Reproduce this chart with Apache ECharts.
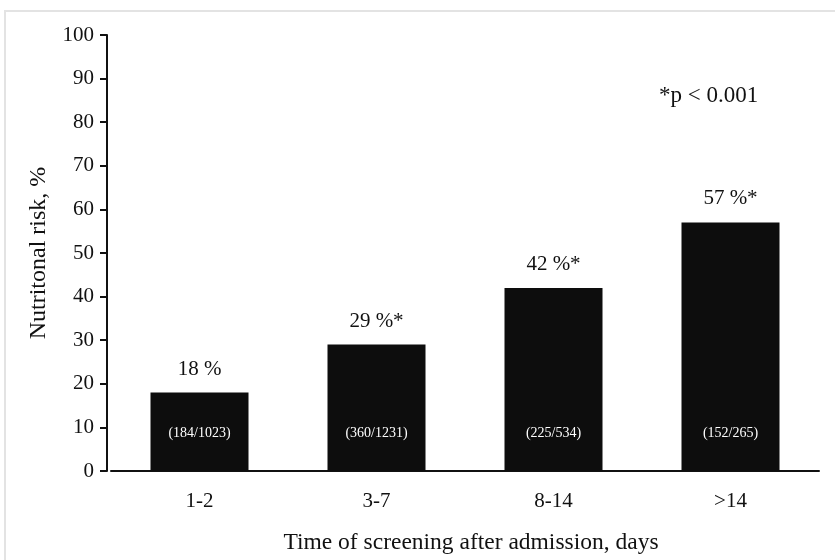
<!DOCTYPE html>
<html>
<head>
<meta charset="utf-8">
<script src="https://cdn.jsdelivr.net/npm/echarts@6/dist/echarts.min.js"></script>
<style>html,body{margin:0;padding:0;background:#fff}#c{width:835px;height:560px}</style>
</head>
<body>
<div id="c"></div>
<script>
const categories = ['1-2', '3-7', '8-14', '>14'];
const riskValues = [18, 29, 42, 57];
const topLabels = ['18 %', '29 %*', '42 %*', '57 %*'];
const countLabels = ['(184/1023)', '(360/1231)', '(225/534)', '(152/265)'];
const yTicks = [0, 10, 20, 30, 40, 50, 60, 70, 80, 90, 100];

const FONT = '"Liberation Serif", "Times New Roman", serif';
const chart = echarts.init(document.getElementById('c'), null, {renderer: 'canvas'});
chart.setOption({
  backgroundColor: '#fff',
  animation: false,
  graphic: [
    {type: 'rect', shape: {x: 5, y: 11, width: 900, height: 700}, style: {fill: 'none', stroke: '#e3e3e3', lineWidth: 2}},
    {type: 'text', left: 659, top: 84, style: {text: '*p < 0.001', font: '23px ' + FONT, fill: '#111'}}
  ],
  grid: {left: 111, right: 16, top: 35, bottom: 88, containLabel: false},
  xAxis: {
    type: 'category',
    data: categories,
    axisLine: {lineStyle: {color: '#111', width: 2}},
    axisTick: {show: false},
    axisLabel: {color: '#111', fontFamily: FONT, fontSize: 21, margin: 20},
    name: 'Time of screening after admission, days',
    nameLocation: 'middle',
    nameGap: 60,
    nameTextStyle: {color: '#111', fontFamily: FONT, fontSize: 23.5, padding: [0, 0, 0, 12]}
  },
  yAxis: {
    type: 'value',
    min: yTicks[0], max: yTicks[yTicks.length - 1], interval: 10,
    offset: 4,
    splitLine: {show: false},
    axisLine: {show: true, lineStyle: {color: '#111', width: 2}},
    axisTick: {show: true, length: 7, lineStyle: {color: '#111', width: 2}},
    axisLabel: {color: '#111', fontFamily: FONT, fontSize: 21, margin: 13},
    name: 'Nutritonal risk, %',
    nameLocation: 'middle',
    nameGap: 56,
    nameTextStyle: {color: '#111', fontFamily: FONT, fontSize: 24}
  },
  series: [
    {
      type: 'bar',
      data: riskValues,
      barWidth: 98,
      itemStyle: {color: '#0d0d0d'},
      label: {
        show: true, position: 'top', distance: 13,
        formatter: p => topLabels[p.dataIndex],
        color: '#111', fontFamily: FONT, fontSize: 21
      }
    },
    {
      type: 'bar',
      data: riskValues,
      barWidth: 98,
      barGap: '-100%',
      itemStyle: {color: 'transparent'},
      label: {
        show: true, position: 'insideBottom', distance: 31,
        formatter: p => countLabels[p.dataIndex],
        color: '#fff', fontFamily: FONT, fontSize: 14
      },
      z: 3
    }
  ]
});
</script>
</body>
</html>
